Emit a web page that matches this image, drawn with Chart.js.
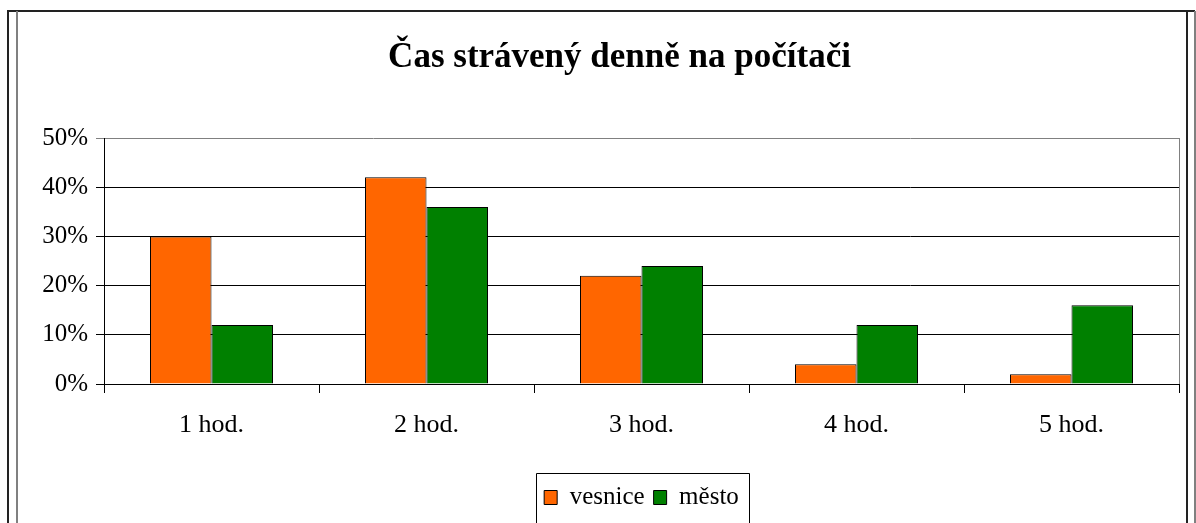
<!DOCTYPE html>
<html>
<head>
<meta charset="utf-8">
<script src="https://cdn.jsdelivr.net/npm/chart.js@4.4.1/dist/chart.umd.min.js"></script>
<style>
  html, body { margin: 0; padding: 0; background: #ffffff; }
  #wrap { width: 1196px; height: 523px; position: relative; }
</style>
</head>
<body>
<div id="wrap"><canvas id="c" width="1196" height="523"></canvas></div>
<script>
const categories = ['1 hod.', '2 hod.', '3 hod.', '4 hod.', '5 hod.'];
const vesnice = [30, 42, 22, 4, 2];
const mesto = [12, 36, 24, 12, 16];
const seriesNames = ['vesnice', 'město'];
const titleText = 'Čas strávený denně na počítači';

const FONT = "'Liberation Serif', 'Times New Roman', serif";

const framePlugin = {
  id: 'framePlugin',
  afterDraw(chart) {
    const ctx = chart.ctx;
    const a = chart.chartArea;
    ctx.save();
    // title
    ctx.fillStyle = '#000000';
    ctx.font = 'bold 35px ' + FONT;
    ctx.textAlign = 'center';
    ctx.textBaseline = 'alphabetic';
    ctx.fillText(titleText, 619.5, 67);
    // plot area border (right grey)
    ctx.strokeStyle = '#808080';
    ctx.lineWidth = 1;
    ctx.beginPath();
    ctx.moveTo(Math.round(a.right) + 0.5, Math.round(a.top));
    ctx.lineTo(Math.round(a.right) + 0.5, Math.round(a.bottom));
    ctx.stroke();
    // outer frame
    ctx.strokeStyle = '#222222';
    ctx.lineWidth = 2;
    ctx.beginPath();
    ctx.moveTo(8, 530); ctx.lineTo(8, 11); ctx.lineTo(1195, 11);
    ctx.moveTo(1187, 11); ctx.lineTo(1187, 530);
    ctx.stroke();
    ctx.strokeStyle = '#808080';
    ctx.beginPath();
    ctx.moveTo(17, 11); ctx.lineTo(17, 530);
    ctx.moveTo(1195, 11); ctx.lineTo(1195, 530);
    ctx.stroke();
    // legend box
    const lg = chart.legend;
    if (lg && lg.legendHitBoxes && lg.legendHitBoxes.length) {
      const hb = lg.legendHitBoxes;
      const first = hb[0], last = hb[hb.length - 1];
      const x0 = Math.round(first.left - 8) + 0.5;
      const x1 = Math.round(last.left + last.width + 10) + 0.5;
      const y0 = Math.round(first.top - 12) + 0.5;
      const y1 = 524;
      ctx.lineWidth = 1;
      ctx.strokeStyle = '#000000';
      ctx.beginPath();
      ctx.moveTo(x0, y1); ctx.lineTo(x0, y0); ctx.lineTo(x1, y0); ctx.lineTo(x1, y1);
      ctx.stroke();
    }
    ctx.restore();
  }
};

new Chart(document.getElementById('c'), {
  type: 'bar',
  data: {
    labels: categories,
    datasets: [
      { label: seriesNames[0], data: vesnice, backgroundColor: '#FF6600', borderColor: '#000000', borderWidth: 1,
        categoryPercentage: 0.572, barPercentage: 1.0 },
      { label: seriesNames[1], data: mesto, backgroundColor: '#008000', borderColor: '#000000', borderWidth: 1,
        categoryPercentage: 0.572, barPercentage: 1.0 }
    ]
  },
  options: {
    responsive: false,
    animation: false,
    devicePixelRatio: 1,
    layout: { padding: { left: 30, right: 17, top: 138, bottom: 3 } },
    plugins: {
      title: { display: false },
      legend: {
        display: true,
        position: 'bottom',
        fullSize: false,
        labels: {
          color: '#000000',
          font: { family: FONT, size: 25 },
          boxWidth: 13,
          boxHeight: 14,
          padding: 9
        }
      },
      tooltip: { enabled: false }
    },
    scales: {
      x: {
        afterFit(scale) { scale.height = 92; },
        grid: {
          offset: true,
          drawOnChartArea: false,
          drawTicks: true,
          tickLength: 9,
          color: '#000000'
        },
        border: { color: '#000000', width: 1 },
        ticks: {
          color: '#000000',
          font: { family: FONT, size: 26 },
          padding: 17
        }
      },
      y: {
        min: 0,
        max: 50,
        afterFit(scale) { scale.width = 74; },
        grid: {
          color: (c) => (c.tick && c.tick.value === 50 ? '#808080' : '#000000'),
          tickLength: 8,
          drawTicks: true
        },
        border: { color: '#000000', width: 1 },
        ticks: {
          stepSize: 10,
          color: '#000000',
          font: { family: FONT, size: 25 },
          padding: 8,
          callback: (v) => v + '%'
        }
      }
    }
  },
  plugins: [framePlugin]
});
</script>
</body>
</html>
